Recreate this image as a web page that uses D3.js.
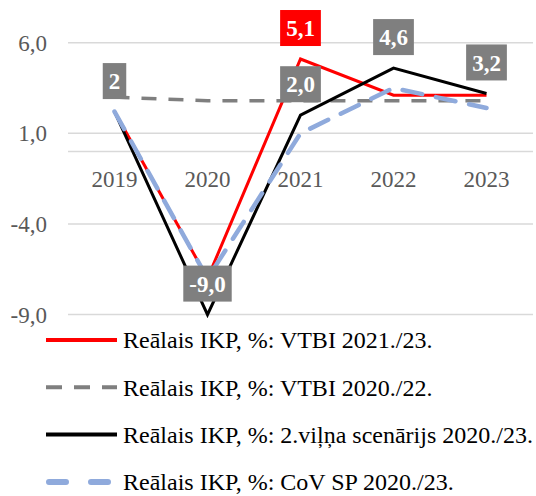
<!DOCTYPE html>
<html>
<head>
<meta charset="utf-8">
<script src="https://cdn.jsdelivr.net/npm/d3@7"></script>
<style>
  body { margin: 0; background: #fff; }
  svg text { font-family: "Liberation Serif", "Times New Roman", serif; }
</style>
</head>
<body>
<div id="chart"></div>
<script>
// categories and series
var years = ["2019", "2020", "2021", "2022", "2023"];
var vtbi2123 = [2.2, -7.0, 5.1, 3.1, 3.1];
var vtbi2022 = [3.0, 2.8, 2.8, 2.8, 2.8];
var vilna2 = [2.2, -9.0, 2.0, 4.6, 3.2];
var covSP = [2.2, -7.0, 1.0, 3.5, 2.4];
var yTicks = [-9, -4, 1, 6];
var seriesNames = ["Reālais IKP, %: VTBI 2021./23.",
                   "Reālais IKP, %: VTBI 2020./22.",
                   "Reālais IKP, %: 2.viļņa scenārijs 2020./23.",
                   "Reālais IKP, %: CoV SP 2020./23."];

// data labels: which series, which year, what text
var labelSeries = [1, 0, 2, 2, 2, 2];
var labelYears = ["2019", "2021", "2020", "2021", "2022", "2023"];
var labelTexts = ["2", "5,1", "-9,0", "2,0", "4,6", "3,2"];

var width = 536, height = 496;

var series = [
  {name: seriesNames[0], values: vtbi2123, color: "#ff0000", w: 3, dash: null, cap: "butt", legDash: null},
  {name: seriesNames[1], values: vtbi2022, color: "#7f7f7f", w: 3.5, dash: "15,12", cap: "butt", legDash: "16,12"},
  {name: seriesNames[2], values: vilna2, color: "#000000", w: 3, dash: null, cap: "butt", legDash: null},
  {name: seriesNames[3], values: covSP, color: "#8faadc", w: 4.5, dash: "20,14", cap: "round", legDash: "17,25"}
];

var svg = d3.select("#chart").append("svg")
  .attr("width", width)
  .attr("height", height);

var x = d3.scaleBand().domain(years).range([68, 533]);
var y = d3.scaleLinear().domain([-9, 6]).range([314.6, 42.7]);

// gridlines + zero line
svg.append("g").selectAll("line")
  .data(yTicks.concat([0]))
  .enter().append("line")
  .attr("x1", 68).attr("x2", 533)
  .attr("y1", function(d){return y(d);})
  .attr("y2", function(d){return y(d);})
  .attr("stroke", "#d9d9d9")
  .attr("stroke-width", 1.5);

// y tick labels
svg.append("g").selectAll("text")
  .data(yTicks)
  .enter().append("text")
  .attr("x", 47)
  .attr("y", function(d){return y(d);})
  .attr("dy", "0.35em")
  .attr("text-anchor", "end")
  .attr("fill", "#595959")
  .style("font-size", "23px")
  .text(function(d){return d3.format(".1f")(d).replace(".", ",").replace("−", "-");});

// category labels sit under the zero line
svg.append("g").selectAll("text")
  .data(years)
  .enter().append("text")
  .attr("x", function(d){return x(d) + x.bandwidth() / 2;})
  .attr("y", y(0) + 35.5)
  .attr("text-anchor", "middle")
  .attr("fill", "#595959")
  .style("font-size", "23px")
  .text(function(d){return d;});

var line = d3.line()
  .x(function(d, i){return x(years[i]) + x.bandwidth() / 2;})
  .y(function(d){return y(d);});

svg.append("g").selectAll("path")
  .data(series)
  .enter().append("path")
  .attr("d", function(d){return line(d.values);})
  .attr("fill", "none")
  .attr("stroke", function(d){return d.color;})
  .attr("stroke-width", function(d){return d.w;})
  .attr("stroke-dasharray", function(d){return d.dash;})
  .attr("stroke-linecap", function(d){return d.cap;})
  .attr("stroke-linejoin", "miter");

// data labels (boxes filled with series colour, gray for black series)
var labels = labelTexts.map(function(t, i) {
  var s = series[labelSeries[i]];
  var k = years.indexOf(labelYears[i]);
  return {text: t, cx: x(labelYears[i]) + x.bandwidth() / 2, cy: y(s.values[k]),
          fill: s.color === "#000000" ? "#7f7f7f" : s.color, first: i === 0};
});

var lg = svg.append("g").selectAll("g")
  .data(labels)
  .enter().append("g")
  .attr("transform", function(d){
    var off = d.first ? -16 : -31;
    return "translate(" + d.cx + "," + (d.cy + off) + ")";
  });

lg.append("text")
  .attr("text-anchor", "middle")
  .attr("dy", "0.35em")
  .attr("fill", "#fff")
  .style("font-size", "23px")
  .style("font-weight", "bold")
  .text(function(d){return d.text;});

lg.each(function(d) {
  var g = d3.select(this);
  var bb = g.select("text").node().getBBox();
  g.insert("rect", "text")
    .attr("x", -bb.width / 2 - 6)
    .attr("y", -18)
    .attr("width", bb.width + 12)
    .attr("height", 36)
    .attr("fill", d.fill);
});

// legend
var leg = svg.append("g").selectAll("g")
  .data(series)
  .enter().append("g")
  .attr("transform", function(d, i){return "translate(46," + (340 + i * 47.3) + ")";});

leg.append("line")
  .attr("x1", function(d){return d.cap === "round" ? 3 : 0;})
  .attr("x2", function(d){return d.cap === "round" ? 68 : 71;})
  .attr("stroke", function(d){return d.color;})
  .attr("stroke-width", function(d){return d.cap === "round" ? 6 : 4;})
  .attr("stroke-dasharray", function(d){return d.legDash;})
  .attr("stroke-linecap", function(d){return d.cap;});

leg.append("text")
  .attr("x", 77)
  .attr("dy", "0.35em")
  .attr("fill", "#000")
  .style("font-size", "24px")
  .text(function(d){return d.name;});
</script>
</body>
</html>
